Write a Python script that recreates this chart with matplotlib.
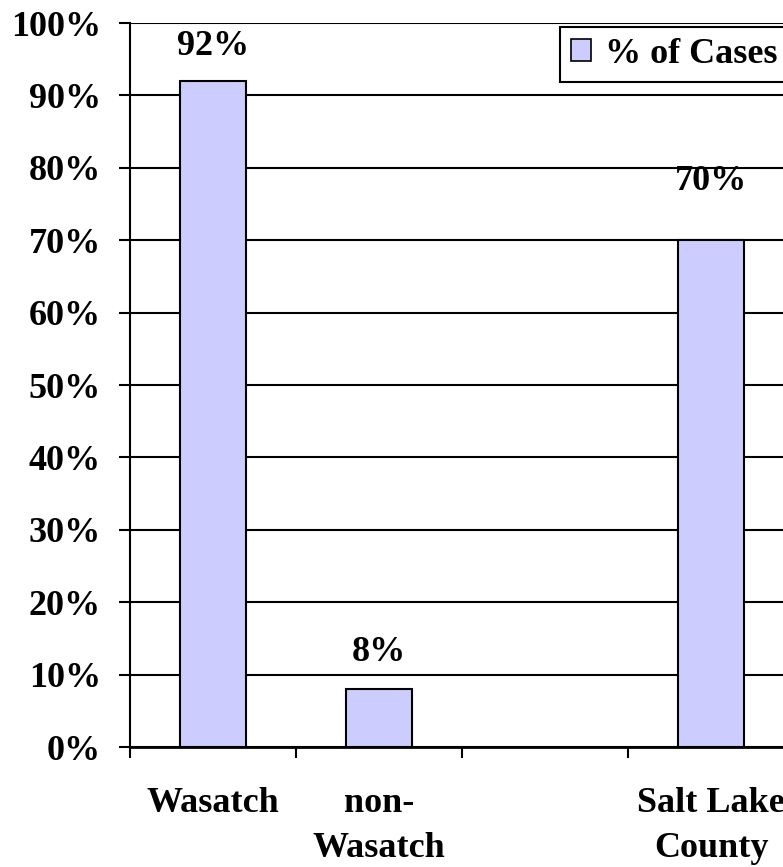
import numpy as np
import matplotlib
matplotlib.use("Agg")
import matplotlib.pyplot as plt
from matplotlib.ticker import FixedLocator, FuncFormatter

# Data
categories = ["Wasatch", "non-\nWasatch", "", "Salt Lake\nCounty"]
pct_cases = [92, 8, np.nan, 70]
series_name = "% of Cases"
y_ticks = list(range(0, 101, 10))

plt.rcParams['font.family'] = ['Liberation Serif', 'DejaVu Serif']
plt.rcParams['font.weight'] = 'bold'
FS = 26

fig = plt.figure(figsize=(7.83, 8.67), dpi=100)
# axes runs slightly past the right edge, as in the cropped original
ax = fig.add_axes([130 / 783, 1 - 747 / 867, 664 / 783, 724 / 867])

x = np.arange(len(categories))
bars = ax.bar(x, pct_cases, width=0.4, color='#CCCCFF', edgecolor='black',
              linewidth=1.5, label=series_name, zorder=3)

# value labels above bars
label_pad = [18, 20, 0, 42]
for xi, v, pad in zip(x, pct_cases, label_pad):
    if np.isnan(v):
        continue
    ax.annotate(f"{v:.0f}%", (xi, v), xytext=(0, pad), textcoords='offset pixels',
                ha='center', va='bottom', fontsize=FS, fontweight='bold')

ax.set_xlim(-0.5, len(categories) - 0.5)
ax.set_ylim(0, 100)
ax.set_yticks(y_ticks)
ax.yaxis.set_major_formatter(FuncFormatter(lambda v, p: f"{v:.0f}%"))
ax.yaxis.grid(True, color='black', linewidth=1.5, zorder=0)
ax.set_axisbelow(True)

# category labels at centres, tick marks at boundaries
ax.set_xticks(x)
ax.set_xticklabels(categories, linespacing=1.45)
ax.xaxis.set_minor_locator(FixedLocator(np.arange(len(categories) + 1) - 0.5))
ax.tick_params(axis='x', which='major', length=0, pad=29, labelsize=FS)
ax.tick_params(axis='x', which='minor', length=8, width=1.5, direction='out')
ax.tick_params(axis='y', length=8, width=1.5, pad=13, labelsize=FS)

for side in ['top', 'right']:
    ax.spines[side].set_visible(False)
for side in ['left', 'bottom']:
    ax.spines[side].set_linewidth(1.5)
ax.spines['bottom'].set_linewidth(2.0)

leg = ax.legend(loc='upper left', bbox_to_anchor=(560 / 783, 1 - 27 / 867),
                bbox_transform=fig.transFigure, fontsize=FS, frameon=True,
                fancybox=False, framealpha=1, edgecolor='black',
                handlelength=0.55, handleheight=0.55, handletextpad=0.4,
                borderpad=0.3, borderaxespad=0)
leg.get_frame().set_linewidth(1.5)
for h in leg.legend_handles:
    h.set_linewidth(1.2)

fig.savefig("out.png", dpi=100)
